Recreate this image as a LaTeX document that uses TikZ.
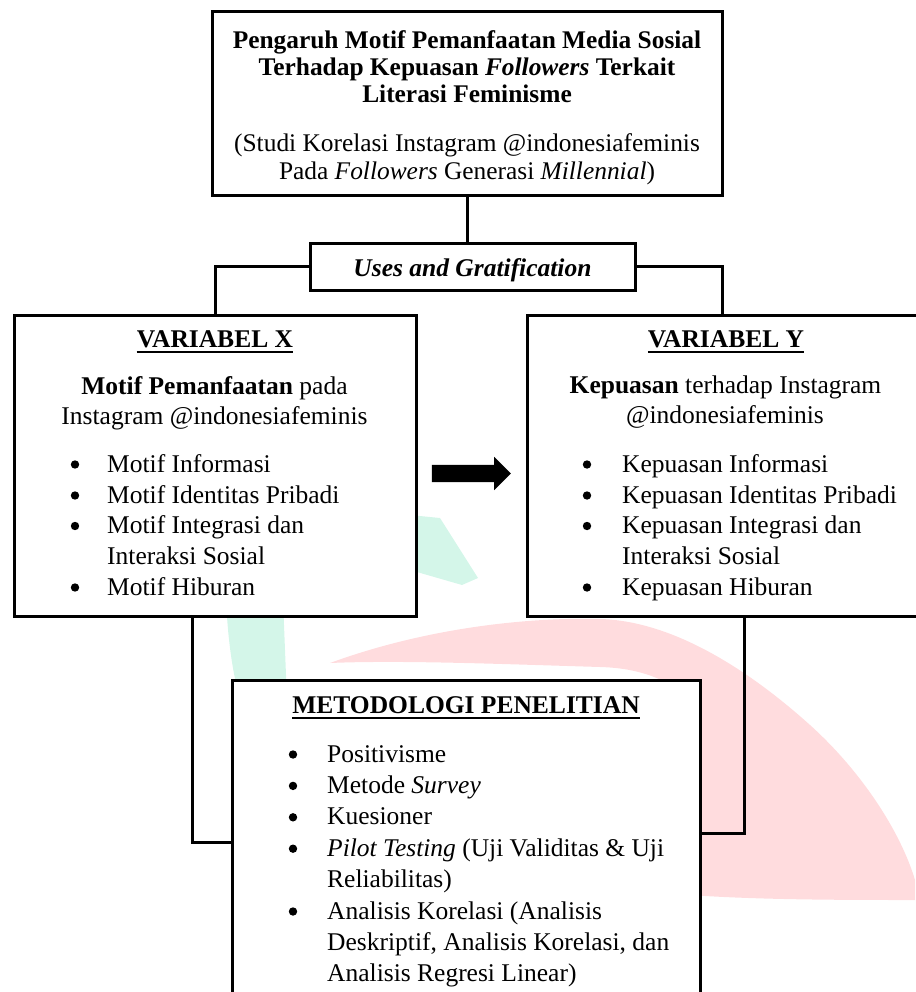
\documentclass[tikz,border=0pt]{standalone}
\usepackage{fontspec}
\setmainfont{Liberation Serif}
\usetikzlibrary{shapes.arrows}
\definecolor{wmpink}{RGB}{255,220,222}
\definecolor{wmteal}{RGB}{212,246,233}
\begin{document}
\begin{tikzpicture}[x=1pt,y=-1pt,
  box/.style={draw=black, line width=3pt, inner sep=0pt, fill=white},
  conn/.style={draw=black, line width=3pt},
  ttl/.style={inner sep=0pt, anchor=base, font=\fontsize{25.4}{29}\selectfont},
  hd/.style={inner sep=0pt, anchor=base, font=\fontsize{25.5}{30}\selectfont\bfseries},
  ctr/.style={inner sep=0pt, anchor=base, font=\fontsize{25.5}{30}\selectfont},
  itm/.style={inner sep=0pt, anchor=base west, font=\fontsize{25.5}{30}\selectfont},
  ul/.style={line width=1.7pt},
  dot/.style={circle, fill=black, inner sep=0pt, minimum size=8.4pt}
]
\useasboundingbox (0,0) rectangle (915,992);

% faint watermark behind the diagram
\fill[wmpink] (330,663) .. controls (420,630) and (520,617) .. (600,619)
  .. controls (680,621) and (760,680) .. (810,725)
  .. controls (860,770) and (900,830) .. (915,880)
  -- (915,900) .. controls (850,900) and (760,900) .. (690,895)
  -- (690,700) .. controls (670,680) and (640,668) .. (600,667)
  .. controls (500,664) and (400,660) .. (330,663) -- cycle;
\fill[wmteal] (222,600) -- (283,600) -- (287,700) -- (240,700)
  .. controls (232,670) and (228,640) .. (226,600) -- cycle;
\fill[wmteal] (410,515) -- (440,518) -- (478,578) -- (462,585) -- (410,570) -- cycle;

% boxes
\node[box, minimum width=510pt, minimum height=184pt] (title) at (467,104) {};
\node[box, minimum width=325pt, minimum height=47pt] (uses) at (472.5,266.5) {};
\node[box, minimum width=402pt, minimum height=301pt] (varx) at (215,465.5) {};
\node[box, minimum width=390pt, minimum height=301pt] (vary) at (722,465.5) {};

% connectors
\draw[conn] (title.south) -- (title.south |- uses.north);
\draw[conn] (uses.west) -| (varx.north);
\draw[conn] (uses.east) -| (vary.north);
\coordinate (xb) at (192,616);
\coordinate (xc) at (192,842);
\coordinate (yb) at (744,616);
\coordinate (yc) at (744,833);

\node[box, minimum width=468pt, minimum height=330pt] (meth) at (466,845) {};
\draw[conn] (xb) -- (xc) -- (xc -| meth.west);
\draw[conn] (yb) -- (yc) -- (yc -| meth.east);

% arrow
\node[single arrow, fill=black, inner sep=8.5pt, minimum height=79pt,
      single arrow head extend=8pt] (arr) at (467,473.5) {};

% title text
\node[ttl, font=\fontsize{25.4}{29}\selectfont\bfseries] (t1) at (467,49) {Pengaruh Motif Pemanfaatan Media Sosial};
\node[ttl, font=\fontsize{25.4}{29}\selectfont\bfseries] (t2) at (467,76) {Terhadap Kepuasan \textit{Followers} Terkait};
\node[ttl, font=\fontsize{25.4}{29}\selectfont\bfseries] (t3) at (467,103) {Literasi Feminisme};
\node[ttl] (t4) at (467,152) {(Studi Korelasi Instagram @indonesiafeminis};
\node[ttl] (t5) at (467,180) {Pada \textit{Followers} Generasi \textit{Millennial})};

\node[hd] (ut) at (472.5,276) {\itshape Uses and Gratification};

% variabel X
\node[hd] (vxh) at (215,347) {VARIABEL X};
\draw[ul] ([yshift=-5pt]vxh.base west) -- ([yshift=-5pt]vxh.base east);
\node[ctr] (vx1) at (214.5,394) {\textbf{Motif Pemanfaatan} pada};
\node[ctr] (vx2) at (214.5,424) {Instagram @indonesiafeminis};
\node[itm] (xi1) at (107,472) {Motif Informasi};
\node[itm] (xi2) at (107,503) {Motif Identitas Pribadi};
\node[itm] (xi3) at (107,533.5) {Motif Integrasi dan};
\node[itm] (xi3b) at (107,564) {Interaksi Sosial};
\node[itm] (xi4) at (107,595) {Motif Hiburan};
\node[dot] (xd1) at (75,464.5) {};
\node[dot] (xd2) at (75,495.5) {};
\node[dot] (xd3) at (75,526) {};
\node[dot] (xd4) at (75,587.5) {};

% variabel Y
\node[hd] (vyh) at (726,347) {VARIABEL Y};
\draw[ul] ([yshift=-5pt]vyh.base west) -- ([yshift=-5pt]vyh.base east);
\node[ctr] (vy1) at (725.5,393) {\textbf{Kepuasan} terhadap Instagram};
\node[ctr] (vy2) at (725,423) {@indonesiafeminis};
\node[itm] (yi1) at (622,472) {Kepuasan Informasi};
\node[itm] (yi2) at (622,503) {Kepuasan Identitas Pribadi};
\node[itm] (yi3) at (622,533.5) {Kepuasan Integrasi dan};
\node[itm] (yi3b) at (622,564) {Interaksi Sosial};
\node[itm] (yi4) at (622,595) {Kepuasan Hiburan};
\node[dot] (yd1) at (587,464.5) {};
\node[dot] (yd2) at (587,495.5) {};
\node[dot] (yd3) at (587,526) {};
\node[dot] (yd4) at (587,587.5) {};

% metodologi
\node[hd] (mh) at (466,713) {METODOLOGI PENELITIAN};
\draw[ul] ([yshift=-5pt]mh.base west) -- ([yshift=-5pt]mh.base east);
\node[itm] (m1) at (327,762) {Positivisme};
\node[itm] (m2) at (327,793.4) {Metode \textit{Survey}};
\node[itm] (m3) at (327,824.8) {Kuesioner};
\node[itm] (m4) at (327,856.2) {\textit{Pilot Testing} (Uji Validitas \& Uji};
\node[itm] (m4b) at (327,887.6) {Reliabilitas)};
\node[itm] (m5) at (327,919) {Analisis Korelasi (Analisis};
\node[itm] (m5b) at (327,950.4) {Deskriptif, Analisis Korelasi, dan};
\node[itm] (m5c) at (327,981.8) {Analisis Regresi Linear)};
\node[dot] (md1) at (293,754.5) {};
\node[dot] (md2) at (293,785.9) {};
\node[dot] (md3) at (293,817.3) {};
\node[dot] (md4) at (293,848.7) {};
\node[dot] (md5) at (293,911.5) {};
\end{tikzpicture}
\end{document}
